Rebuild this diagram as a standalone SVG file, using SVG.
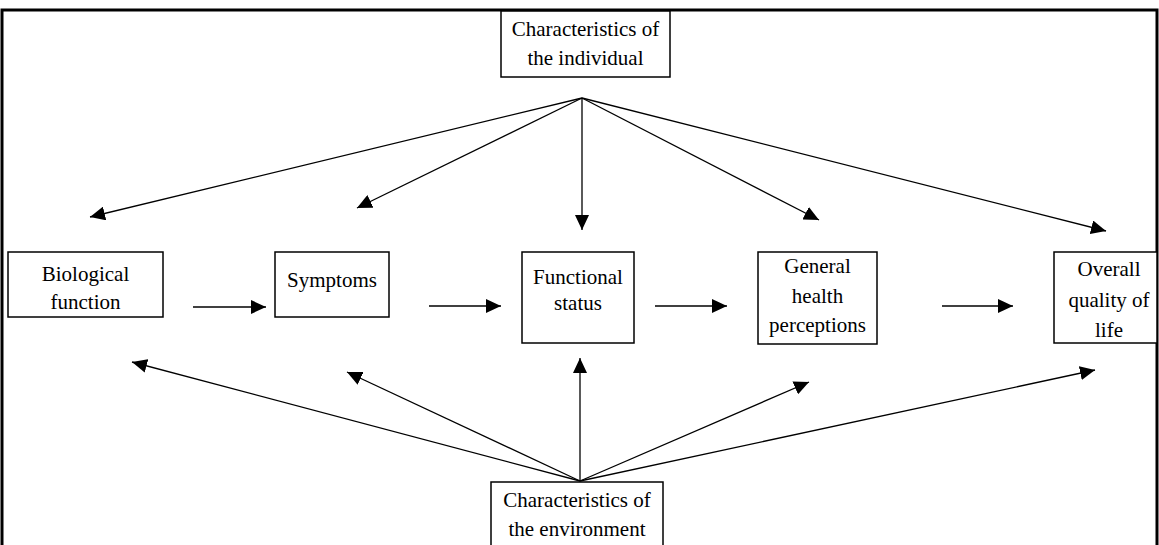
<svg xmlns="http://www.w3.org/2000/svg" width="1159" height="545" viewBox="0 0 1159 545">
<style>
  .box { fill: #fff; stroke: #000; stroke-width: 1.5; }
  .t { font-family: "Liberation Serif", "Times New Roman", serif; font-size: 21px; fill: #000; text-anchor: middle; }
  .c { stroke: #000; stroke-width: 1.3; fill: none; marker-end: url(#ah); }
  .h { stroke-width: 1.6; }
</style>
<defs>
  <marker id="ah" markerUnits="userSpaceOnUse" markerWidth="16" markerHeight="14" refX="15" refY="7" orient="auto" viewBox="0 0 16 14">
    <path d="M0,0 L15,7 L0,14 z" fill="#000"/>
  </marker>
</defs>
<rect width="1159" height="545" fill="#fff"/>
<path d="M2,545 V10 H1157 V545" fill="none" stroke="#000" stroke-width="3"/>

<g id="connectors">
  <line class="c" x1="582" y1="98" x2="90" y2="217"/>
  <line class="c" x1="582" y1="98" x2="357" y2="208"/>
  <line class="c" x1="582" y1="98" x2="582" y2="230"/>
  <line class="c" x1="582" y1="98" x2="819" y2="220"/>
  <line class="c" x1="582" y1="98" x2="1106" y2="231"/>

  <line class="c" x1="580" y1="481" x2="132" y2="362"/>
  <line class="c" x1="580" y1="481" x2="347" y2="372"/>
  <line class="c" x1="580" y1="481" x2="580" y2="358"/>
  <line class="c" x1="580" y1="481" x2="809" y2="382"/>
  <line class="c" x1="580" y1="481" x2="1095" y2="370"/>

  <line class="c h" x1="193" y1="307" x2="266" y2="307"/>
  <line class="c h" x1="429" y1="306" x2="501" y2="306"/>
  <line class="c h" x1="655" y1="306" x2="727" y2="306"/>
  <line class="c h" x1="942" y1="306" x2="1013" y2="306"/>
</g>

<g id="individual">
  <rect class="box" x="501" y="11" width="169" height="66"/>
  <text class="t" x="585.5" y="36">Characteristics of</text>
  <text class="t" x="585.5" y="65">the individual</text>
</g>

<g id="biological">
  <rect class="box" x="8" y="252" width="155" height="65"/>
  <text class="t" x="85.5" y="281">Biological</text>
  <text class="t" x="85.5" y="309">function</text>
</g>

<g id="symptoms">
  <rect class="box" x="275" y="252" width="114" height="65"/>
  <text class="t" x="332" y="287">Symptoms</text>
</g>

<g id="functional">
  <rect class="box" x="522" y="252" width="112" height="91"/>
  <text class="t" x="578" y="284">Functional</text>
  <text class="t" x="578" y="310">status</text>
</g>

<g id="general">
  <rect class="box" x="758" y="252" width="119" height="92"/>
  <text class="t" x="817.5" y="273">General</text>
  <text class="t" x="817.5" y="303">health</text>
  <text class="t" x="817.5" y="332">perceptions</text>
</g>

<g id="overall">
  <rect class="box" x="1054" y="252" width="103" height="91"/>
  <text class="t" x="1109" y="276">Overall</text>
  <text class="t" x="1109" y="307">quality of</text>
  <text class="t" x="1109" y="337">life</text>
</g>

<g id="environment">
  <rect class="box" x="491" y="482" width="172" height="80"/>
  <text class="t" x="577" y="507">Characteristics of</text>
  <text class="t" x="577" y="536">the environment</text>
</g>
</svg>
